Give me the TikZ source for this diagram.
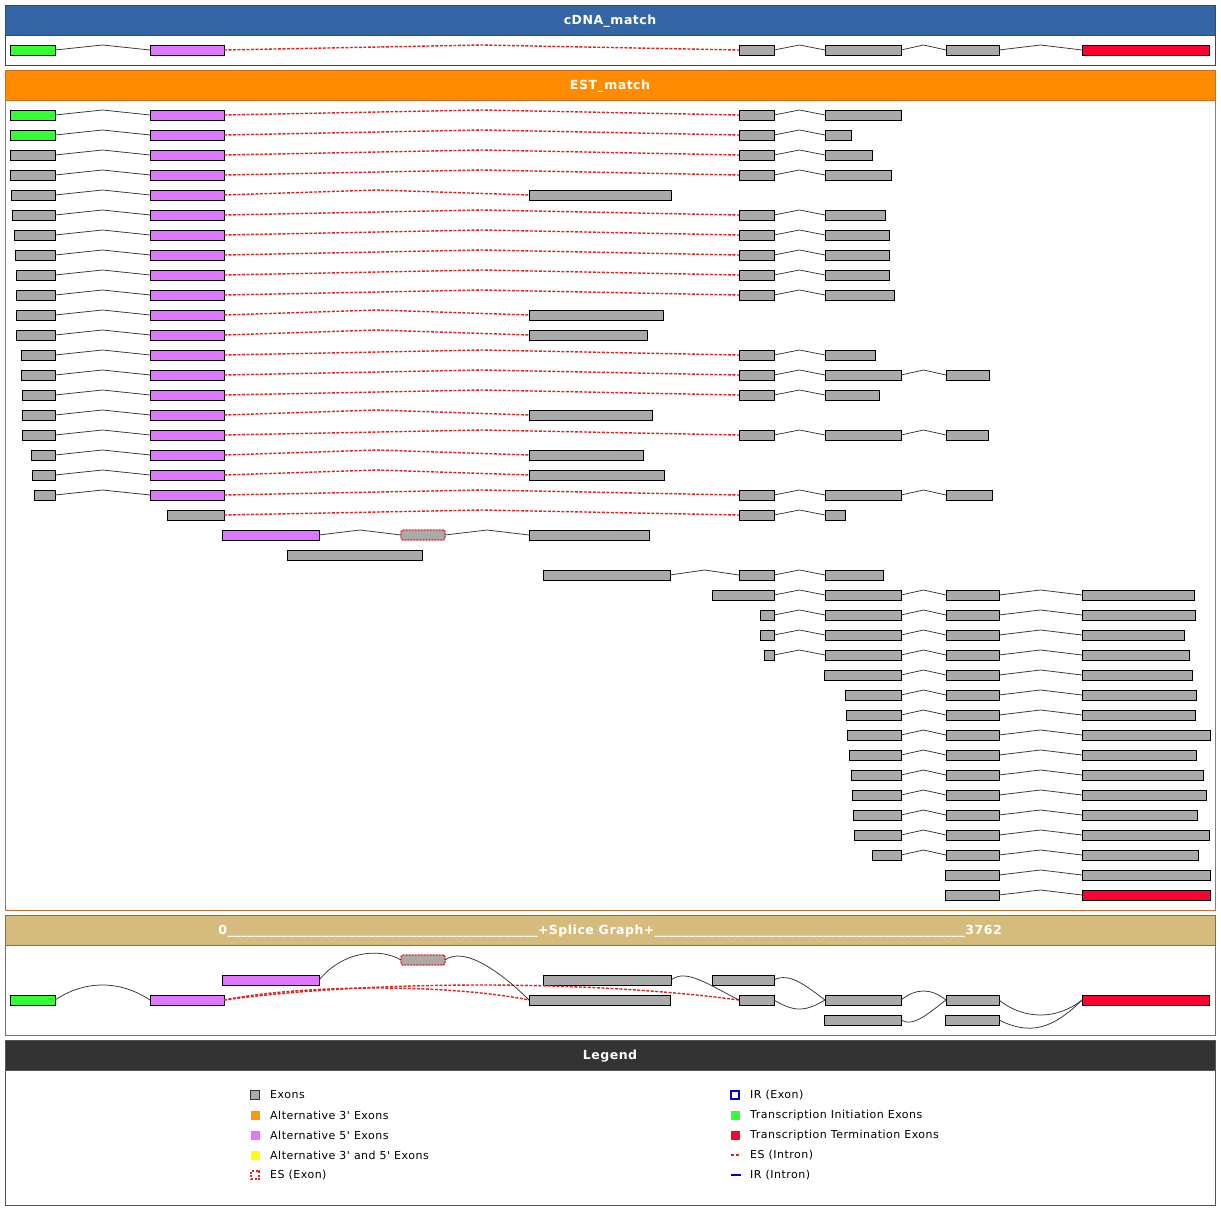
\documentclass[tikz,border=0pt]{standalone}
\usepackage{fontspec}
\setmainfont{DejaVu Sans}[Ligatures=TeXOff]
\newfontfamily\headfont{DejaVu Sans}[LetterSpace=4, Ligatures=TeXOff]
\newfontfamily\legfont{DejaVu Sans}[LetterSpace=4.5, Ligatures=TeXOff]
\usetikzlibrary{calc}
\definecolor{cdnahead}{HTML}{3466A5}
\definecolor{cdnaedge}{HTML}{2E4D6B}
\definecolor{esthead}{HTML}{FF8C00}
\definecolor{estedge}{HTML}{CD6A2E}
\definecolor{sghead}{HTML}{D6BC7C}
\definecolor{sgedge}{HTML}{7F6F52}
\definecolor{leghead}{HTML}{333333}
\definecolor{legedge}{HTML}{555555}
\definecolor{exgray}{HTML}{AAAAAA}
\definecolor{inigreen}{HTML}{33FF33}
\definecolor{terred}{HTML}{FF0033}
\definecolor{altviolet}{HTML}{DD77FF}
\definecolor{altorange}{HTML}{FF9900}
\definecolor{altyellow}{HTML}{FFFF00}
\definecolor{esred}{HTML}{DD2222}
\definecolor{irblue}{HTML}{0000CC}
\definecolor{introngray}{HTML}{333333}
% one aligned transcript: name, y, list of x1/x2/kind
\newcommand\exonrow[3]{%
  \foreach \xa/\xb/\kind [count=\k, remember=\xb as \lastb (initially 0), remember=\k as \lastk (initially 0)] in {#3}{%
    \node[exon, \kind, minimum width={(\xb-\xa)*1pt}] (#1-\k) at ({(\xa+\xb)/2},#2) {};
    \ifnum\k>1
      \pgfmathtruncatemacro\gap{\xa-\lastb}%
      \ifnum\gap>200 \def\ityp{skipintron}\else\def\ityp{intron}\fi
      \draw[\ityp] (#1-\lastk.east) -- ($(#1-\lastk.east)!.5!(#1-\k.west)+(0,-5)$) -- (#1-\k.west);
    \fi}}
\newcommand\unders{\_\_\_\_\_\_\_\_\_\_\_\_\_\_\_\_\_\_\_\_\_\_\_\_\_\_\_\_\_\_\_\_\_\_\_\_\_\_\_\_\_\_\_\_\_\_}
\begin{document}
\begin{tikzpicture}[x=1pt,y=-1pt,
  exon/.style={draw=black, line width=0.8pt, inner sep=0pt, outer sep=0pt, minimum height=10pt},
  grayex/.style={fill=exgray},
  iniex/.style={fill=inigreen},
  terex/.style={fill=terred},
  altex/.style={fill=altviolet},
  esex/.style={fill=exgray, draw=esred, dash pattern=on 2pt off 1pt, line width=1.3pt, rounded corners=1.5pt},
  intron/.style={draw=introngray, line width=0.75pt},
  skipintron/.style={draw=esred, line width=1.4pt, dash pattern=on 3pt off 1.5pt},
  headtxt/.style={text=white, font=\headfont\bfseries\fontsize{12.5}{14}\selectfont},
  legtxt/.style={anchor=west, inner sep=0pt, font=\legfont\fontsize{11}{13}\selectfont},
  swatch/.style={inner sep=0pt, outer sep=0pt, minimum size=9pt}]
\useasboundingbox (0,0) rectangle (1220,1225);
\fill[white] (0,0) rectangle (1220,1225);

% panels
\draw[cdnaedge] (5,5) rectangle (1215,65);
\filldraw[fill=cdnahead, draw=cdnaedge] (5,5) rectangle (1215,35);
\node[headtxt] (cdnatitle) at (610,21) {cDNA\_match};
\draw[estedge] (5,70) rectangle (1215,910);
\filldraw[fill=esthead, draw=estedge] (5,70) rectangle (1215,100);
\node[headtxt] (esttitle) at (610,86) {EST\_match};
\draw[sgedge] (5,915) rectangle (1215,1035);
\filldraw[fill=sghead, draw=sgedge] (5,915) rectangle (1215,945);
\node[headtxt] (sgtitle) at (610,931) {0\unders+Splice Graph+\unders3762};
\draw[legedge] (5,1040) rectangle (1215,1205);
\filldraw[fill=leghead, draw=legedge] (5,1040) rectangle (1215,1070);
\node[headtxt] (legtitle) at (610,1056) {Legend};

% cDNA
\exonrow{cdna}{50}{10/55/iniex, 150/224/altex, 739/774/grayex, 825/901/grayex, 946/999/grayex, 1082/1209/terex}

% ESTs
\exonrow{est1}{115}{10/55/iniex, 150/224/altex, 739/774/grayex, 825/901/grayex}
\exonrow{est2}{135}{10/55/iniex, 150/224/altex, 739/774/grayex, 825/851/grayex}
\exonrow{est3}{155}{10/55/grayex, 150/224/altex, 739/774/grayex, 825/872/grayex}
\exonrow{est4}{175}{10/55/grayex, 150/224/altex, 739/774/grayex, 825/891/grayex}
\exonrow{est5}{195}{11/55/grayex, 150/224/altex, 529/671/grayex}
\exonrow{est6}{215}{12/55/grayex, 150/224/altex, 739/774/grayex, 825/885/grayex}
\exonrow{est7}{235}{14/55/grayex, 150/224/altex, 739/774/grayex, 825/889/grayex}
\exonrow{est8}{255}{15/55/grayex, 150/224/altex, 739/774/grayex, 825/889/grayex}
\exonrow{est9}{275}{16/55/grayex, 150/224/altex, 739/774/grayex, 825/889/grayex}
\exonrow{est10}{295}{16/55/grayex, 150/224/altex, 739/774/grayex, 825/894/grayex}
\exonrow{est11}{315}{16/55/grayex, 150/224/altex, 529/663/grayex}
\exonrow{est12}{335}{16/55/grayex, 150/224/altex, 529/647/grayex}
\exonrow{est13}{355}{21/55/grayex, 150/224/altex, 739/774/grayex, 825/875/grayex}
\exonrow{est14}{375}{21/55/grayex, 150/224/altex, 739/774/grayex, 825/901/grayex, 946/989/grayex}
\exonrow{est15}{395}{22/55/grayex, 150/224/altex, 739/774/grayex, 825/879/grayex}
\exonrow{est16}{415}{22/55/grayex, 150/224/altex, 529/652/grayex}
\exonrow{est17}{435}{22/55/grayex, 150/224/altex, 739/774/grayex, 825/901/grayex, 946/988/grayex}
\exonrow{est18}{455}{31/55/grayex, 150/224/altex, 529/643/grayex}
\exonrow{est19}{475}{32/55/grayex, 150/224/altex, 529/664/grayex}
\exonrow{est20}{495}{34/55/grayex, 150/224/altex, 739/774/grayex, 825/901/grayex, 946/992/grayex}
\exonrow{est21}{515}{167/224/grayex, 739/774/grayex, 825/845/grayex}
\exonrow{est22}{535}{222/319/altex, 401/445/esex, 529/649/grayex}
\exonrow{est23}{555}{287/422/grayex}
\exonrow{est24}{575}{543/670/grayex, 739/774/grayex, 825/883/grayex}
\exonrow{est25}{595}{712/774/grayex, 825/901/grayex, 946/999/grayex, 1082/1194/grayex}
\exonrow{est26}{615}{760/774/grayex, 825/901/grayex, 946/999/grayex, 1082/1195/grayex}
\exonrow{est27}{635}{760/774/grayex, 825/901/grayex, 946/999/grayex, 1082/1184/grayex}
\exonrow{est28}{655}{764/774/grayex, 825/901/grayex, 946/999/grayex, 1082/1189/grayex}
\exonrow{est29}{675}{824/901/grayex, 946/999/grayex, 1082/1192/grayex}
\exonrow{est30}{695}{845/901/grayex, 946/999/grayex, 1082/1196/grayex}
\exonrow{est31}{715}{846/901/grayex, 946/999/grayex, 1082/1195/grayex}
\exonrow{est32}{735}{847/901/grayex, 946/999/grayex, 1082/1210/grayex}
\exonrow{est33}{755}{849/901/grayex, 946/999/grayex, 1082/1196/grayex}
\exonrow{est34}{775}{851/901/grayex, 946/999/grayex, 1082/1203/grayex}
\exonrow{est35}{795}{852/901/grayex, 946/999/grayex, 1082/1206/grayex}
\exonrow{est36}{815}{853/901/grayex, 946/999/grayex, 1082/1197/grayex}
\exonrow{est37}{835}{854/901/grayex, 946/999/grayex, 1082/1209/grayex}
\exonrow{est38}{855}{872/901/grayex, 946/999/grayex, 1082/1198/grayex}
\exonrow{est39}{875}{945/999/grayex, 1082/1210/grayex}
\exonrow{est40}{895}{945/999/grayex, 1082/1210/terex}

% splice graph
\node[exon, iniex, minimum width=45pt] (sg1) at (32.5,1000) {};
\node[exon, altex, minimum width=74pt] (sg2) at (187,1000) {};
\node[exon, altex, minimum width=97pt] (sg3) at (270.5,980) {};
\node[exon, esex, minimum width=44pt] (sg4) at (423,960) {};
\node[exon, grayex, minimum width=128pt] (sg5) at (607,980) {};
\node[exon, grayex, minimum width=141pt] (sg6) at (599.5,1000) {};
\node[exon, grayex, minimum width=62pt] (sg7) at (743,980) {};
\node[exon, grayex, minimum width=35pt] (sg8) at (756.5,1000) {};
\node[exon, grayex, minimum width=76pt] (sg9) at (863,1000) {};
\node[exon, grayex, minimum width=77pt] (sg10) at (862.5,1020) {};
\node[exon, grayex, minimum width=53pt] (sg11) at (972.5,1000) {};
\node[exon, grayex, minimum width=54pt] (sg12) at (972,1020) {};
\node[exon, terex, minimum width=127pt] (sg13) at (1145.5,1000) {};
\draw[intron] (sg1.east) .. controls +(30,-20) and +(-30,-20) .. (sg2.west);
\draw[skipintron] (sg2.east) .. controls +(80,-16) and +(-80,-16) .. (sg6.west);
\draw[skipintron] (sg2.east) .. controls +(150,-20) and +(-150,-20) .. (sg8.west);
\draw[intron] (sg3.east) .. controls +(25,-30) and +(-20,-12) .. (sg4.west);
\draw[intron] (sg4.east) .. controls +(20,-15) and +(-25,-25) .. (sg6.west);
\draw[intron] (sg5.east) .. controls +(15,-12) and +(-30,-15) .. (sg8.west);
\draw[intron] (sg7.east) .. controls +(15,-8) and +(-20,-15) .. (sg9.west);
\draw[intron] (sg8.east) .. controls +(20,12) and +(-20,12) .. (sg9.west);
\draw[intron] (sg9.east) .. controls +(15,-12) and +(-15,-12) .. (sg11.west);
\draw[intron] (sg10.east) .. controls +(12,8) and +(-16,12) .. (sg11.west);
\draw[intron] (sg11.east) .. controls +(25,20) and +(-25,20) .. (sg13.west);
\draw[intron] (sg12.east) .. controls +(30,15) and +(-30,30) .. (sg13.west);

% legend
\node[swatch, draw=introngray, fill=exgray] (sw1) at (255,1095) {};
\node[swatch, fill=altorange] (sw2) at (255,1115) {};
\node[swatch, fill=altviolet] (sw3) at (255,1135) {};
\node[swatch, fill=altyellow] (sw4) at (255,1155) {};
\node[swatch, draw=esred, line width=1.2pt, dash pattern=on 2pt off 1.5pt, minimum size=8pt] (sw5) at (255,1175) {};
\node[legtxt] (leg1) at (270,1095) {Exons};
\node[legtxt] (leg2) at (270,1115) {Alternative 3' Exons};
\node[legtxt] (leg3) at (270,1135) {Alternative 5' Exons};
\node[legtxt] (leg4) at (270,1155) {Alternative 3' and 5' Exons};
\node[legtxt] (leg5) at (270,1175) {ES (Exon)};
\node[swatch, draw=irblue, line width=1.5pt, minimum size=8pt] (sw6) at (735,1095) {};
\node[swatch, fill=inigreen] (sw7) at (735,1115) {};
\node[swatch, fill=terred] (sw8) at (735,1135) {};
\draw[esred, line width=1.4pt, dash pattern=on 3pt off 2pt] (730.5,1155) -- (740.5,1155);
\draw[irblue, line width=1.4pt] (730.5,1175) -- (740.5,1175);
\node[legtxt] (leg6) at (750,1095) {IR (Exon)};
\node[legtxt] (leg7) at (750,1115) {Transcription Initiation Exons};
\node[legtxt] (leg8) at (750,1135) {Transcription Termination Exons};
\node[legtxt] (leg9) at (750,1155) {ES (Intron)};
\node[legtxt] (leg10) at (750,1175) {IR (Intron)};
\end{tikzpicture}
\end{document}
